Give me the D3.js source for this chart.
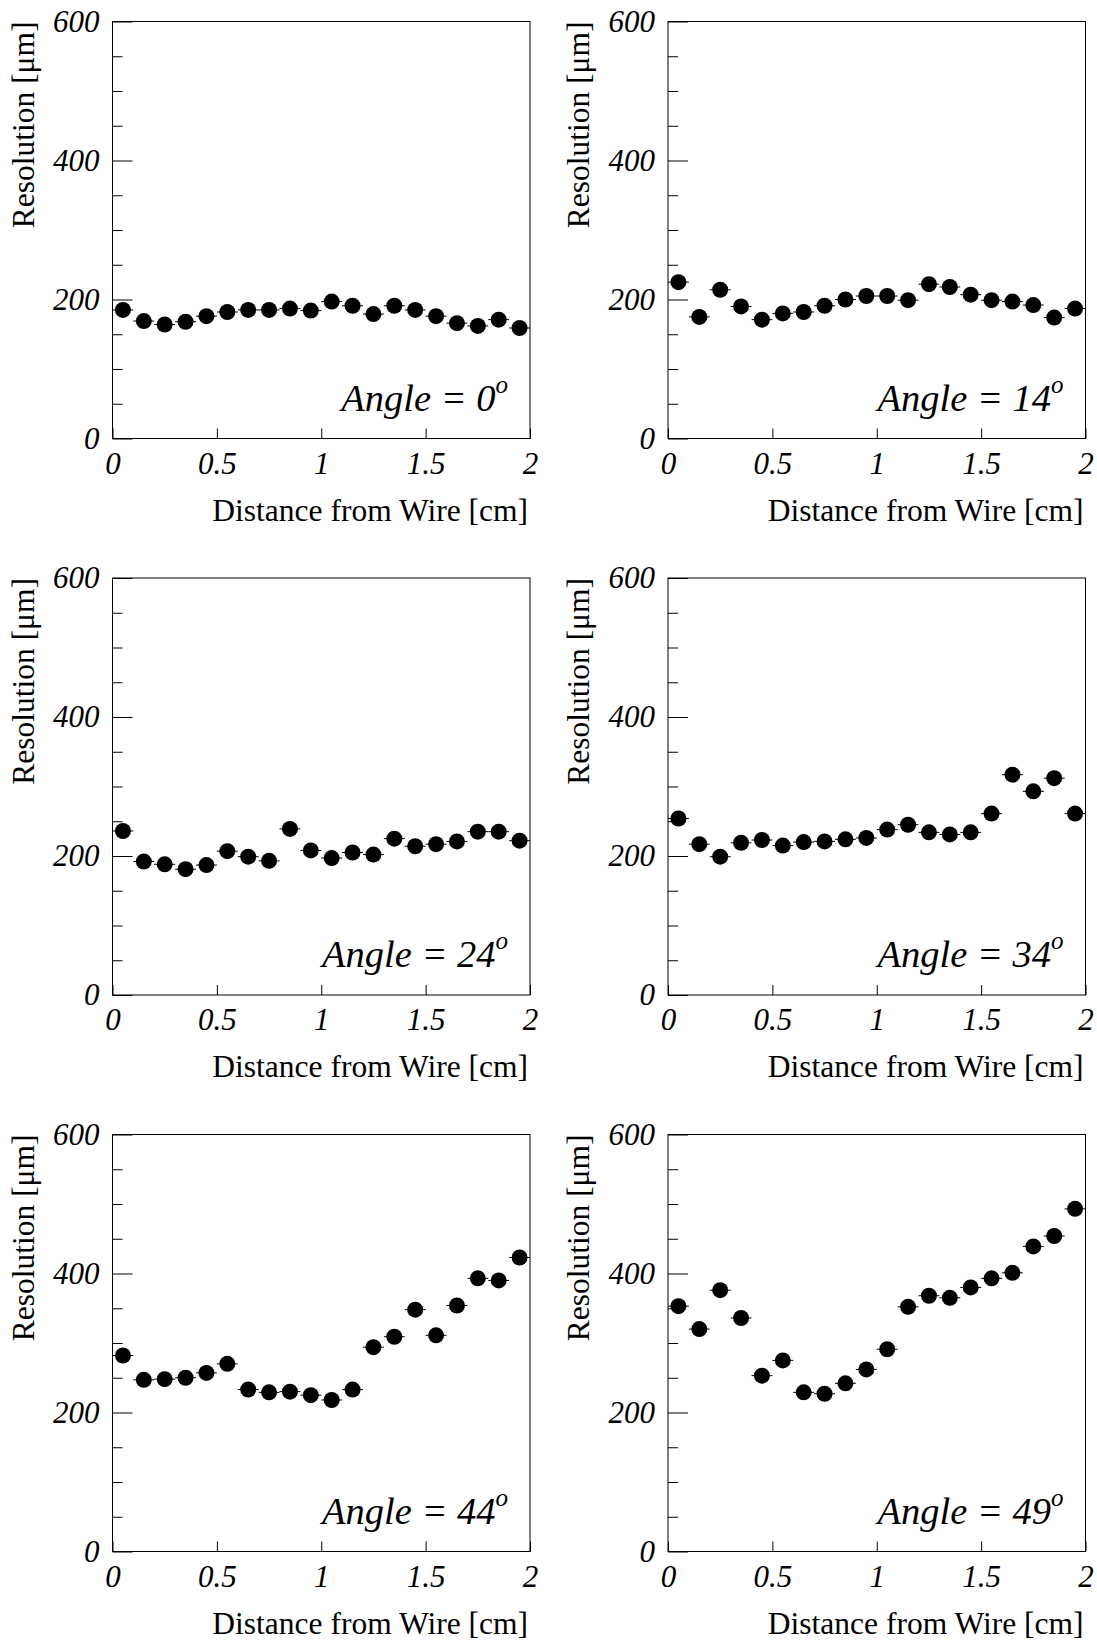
<!DOCTYPE html>
<html>
<head>
<meta charset="utf-8">
<script src="https://cdn.jsdelivr.net/npm/d3@7"></script>
<style>
  body { margin: 0; background: #fff; }
  svg { display: block; }
  .tick text { font-family: "Liberation Serif", "Times New Roman", serif; font-style: italic; font-size: 31px; fill: #000; }
  .tick line { stroke: #000; stroke-width: 1; }
  .title { font-family: "Liberation Serif", "Times New Roman", serif; font-size: 31.5px; fill: #000; }
  .angle { font-family: "Liberation Serif", "Times New Roman", serif; font-style: italic; font-size: 38.5px; fill: #000; }
</style>
</head>
<body>
<svg id="chart" width="1097" height="1641"></svg>
<script>
document.addEventListener('DOMContentLoaded', () => {

    // bin centres along the drift distance [cm]
    const distances = [0.05, 0.15, 0.25, 0.35, 0.45, 0.55, 0.65, 0.75, 0.85, 0.95,
                       1.05, 1.15, 1.25, 1.35, 1.45, 1.55, 1.65, 1.75, 1.85, 1.95];
    const binHalfWidth = 0.05;

    const angles = [0, 14, 24, 34, 44, 49];

    // resolution [um], one array per angle
    const res0  = [185, 169, 164, 168, 176, 182, 185, 185, 187, 184,
                   197, 191, 179, 191, 185, 176, 166, 162, 171, 159];
    const res14 = [225, 175, 214, 190, 171, 180, 182, 191, 200, 205,
                   205, 199, 222, 218, 207, 199, 197, 192, 174, 187];
    const res24 = [236, 192, 188, 181, 187, 207, 199, 193, 239, 208,
                   197, 205, 202, 225, 214, 217, 221, 235, 235, 222];
    const res34 = [254, 217, 199, 219, 223, 215, 220, 221, 224, 226,
                   238, 245, 234, 231, 234, 261, 317, 293, 312, 261];
    const res44 = [282, 247, 248, 250, 257, 270, 233, 229, 230, 225,
                   218, 233, 294, 309, 348, 311, 354, 393, 390, 423];
    const res49 = [353, 320, 376, 336, 253, 275, 229, 227, 242, 262,
                   291, 352, 368, 365, 380, 393, 401, 439, 454, 493];

    const series = [res0, res14, res24, res34, res44, res49];

    const xTicks = [0, 0.5, 1, 1.5, 2];
    const yMajorTicks = [0, 200, 400, 600];
    const yMinorTicks = [50, 100, 150, 250, 300, 350, 450, 500, 550];

    const svg = d3.select('#chart');

    const panelW = 417.5, panelH = 417;
    const colX = [112.5, 668];
    const rowY = [21.5, 578, 1134.5];

    const x = d3.scaleLinear().domain([0, 2]).range([0, panelW]);
    const y = d3.scaleLinear().domain([0, 600]).range([panelH, 0]);

    series.forEach((values, i) => {
        const g = svg.append('g')
            .attr('transform', `translate(${colX[i % 2]},${rowY[Math.floor(i / 2)]})`);

        // y axis, ticks pointing into the frame
        g.append('g')
            .call(d3.axisLeft(y).tickValues(yMajorTicks).tickSize(-20).tickPadding(13).tickFormat(d => d))
            .call(a => a.select('.domain').remove());
        g.append('g')
            .call(d3.axisLeft(y).tickValues(yMinorTicks).tickSize(-10).tickFormat(''))
            .call(a => a.select('.domain').remove());

        // x axis
        g.append('g')
            .attr('transform', `translate(0,${panelH})`)
            .call(d3.axisBottom(x).tickValues(xTicks).tickSize(-10).tickPadding(13).tickFormat(d => d))
            .call(a => a.select('.domain').remove());

        g.selectAll('.tick text').attr('font-family', null).attr('font-size', null);

        // frame
        g.append('rect')
            .attr('width', panelW)
            .attr('height', panelH)
            .attr('fill', 'none')
            .attr('stroke', '#000')
            .attr('stroke-width', 1);

        // horizontal bin error bars
        g.selectAll('line.err')
            .data(values)
            .enter()
            .append('line')
            .attr('class', 'err')
            .attr('x1', (d, j) => x(distances[j] - binHalfWidth))
            .attr('x2', (d, j) => x(distances[j] + binHalfWidth))
            .attr('y1', d => y(d))
            .attr('y2', d => y(d))
            .attr('stroke', '#000')
            .attr('stroke-width', 1);

        g.selectAll('circle')
            .data(values)
            .enter()
            .append('circle')
            .attr('cx', (d, j) => x(distances[j]))
            .attr('cy', d => y(d))
            .attr('r', 8)
            .attr('fill', '#000');

        // angle label
        const lab = g.append('text')
            .attr('class', 'angle')
            .attr('x', panelW - 22)
            .attr('y', panelH - 28)
            .attr('text-anchor', 'end')
            .text(`Angle = ${angles[i]}`);
        lab.append('tspan')
            .attr('dy', -18)
            .attr('font-size', 25)
            .text('o');

        // axis titles
        g.append('text')
            .attr('class', 'title')
            .attr('text-anchor', 'end')
            .attr('x', panelW - 2)
            .attr('y', panelH + 82)
            .text('Distance from Wire [cm]');

        g.append('text')
            .attr('class', 'title')
            .attr('text-anchor', 'end')
            .attr('transform', `translate(-79,0) rotate(-90)`)
            .text('Resolution [\u03bcm]');
    });

});
</script>
</body>
</html>
